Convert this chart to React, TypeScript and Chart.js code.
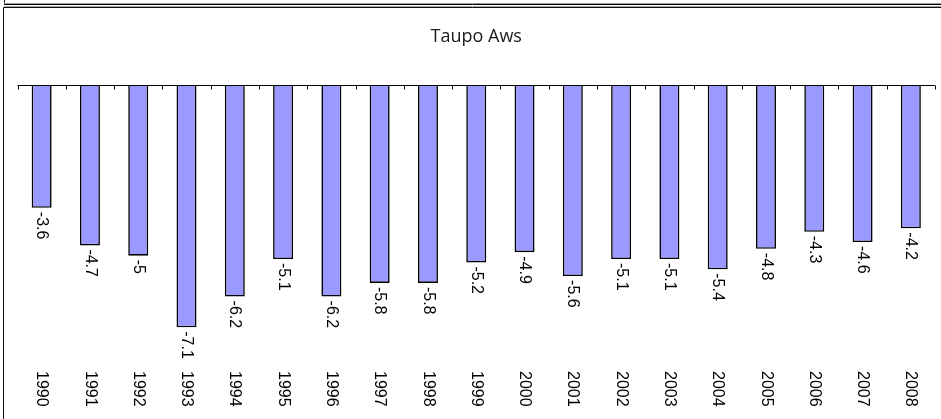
import React, { useEffect, useRef } from "react";
import { Chart, registerables } from "chart.js";

Chart.register(...registerables);

const chartTitle = "Taupo Aws";
const years = ["1990", "1991", "1992", "1993", "1994", "1995", "1996", "1997", "1998", "1999", "2000", "2001", "2002", "2003", "2004", "2005", "2006", "2007", "2008"];
const values = [-3.6, -4.7, -5, -7.1, -6.2, -5.1, -6.2, -5.8, -5.8, -5.2, -4.9, -5.6, -5.1, -5.1, -5.4, -4.8, -4.3, -4.6, -4.2];

const W = 941;
const H = 419;

const decorPlugin = {
  id: "decor",
  beforeDraw(chart: any) {
    const ctx = chart.ctx;
    ctx.save();
    ctx.fillStyle = "#fff";
    ctx.fillRect(0, 0, W, H);
    ctx.lineWidth = 1;
    ctx.strokeStyle = "#222";
    ctx.beginPath();
    ctx.moveTo(4.5, 0);
    ctx.lineTo(4.5, 5);
    ctx.stroke();
    ctx.strokeStyle = "#999";
    ctx.beginPath();
    ctx.moveTo(4, 3.5);
    ctx.lineTo(W, 3.5);
    ctx.stroke();
    ctx.strokeStyle = "#000";
    ctx.beginPath();
    ctx.moveTo(4, 4.5);
    ctx.lineTo(W, 4.5);
    ctx.stroke();
    ctx.strokeStyle = "#111";
    ctx.beginPath();
    ctx.moveTo(3.5, H);
    ctx.lineTo(3.5, 7.5);
    ctx.lineTo(W, 7.5);
    ctx.stroke();
    ctx.strokeStyle = "#aaa";
    ctx.beginPath();
    ctx.moveTo(4, 6.5);
    ctx.lineTo(W, 6.5);
    ctx.stroke();
    ctx.restore();
  },
  afterDatasetsDraw(chart: any) {
    const ctx = chart.ctx;
    const xs = chart.scales.x;
    const ys = chart.scales.y;
    const area = chart.chartArea;
    const y0 = Math.round(ys.getPixelForValue(0)) + 0.5;
    ctx.save();
    ctx.strokeStyle = "#000";
    ctx.lineWidth = 1;
    ctx.beginPath();
    ctx.moveTo(area.left, y0);
    ctx.lineTo(area.right, y0);
    const step = (area.right - area.left) / years.length;
    for (let i = 0; i <= years.length; i++) {
      const x = Math.round(area.left + i * step) + 0.5;
      ctx.moveTo(x, y0);
      ctx.lineTo(x, y0 + 4);
    }
    ctx.stroke();

    ctx.fillStyle = "#1a1a1a";
    ctx.font = "18px 'Open Sans', 'DejaVu Sans', sans-serif";
    ctx.textAlign = "center";
    ctx.textBaseline = "middle";
    ctx.fillText(chartTitle, (area.left + area.right) / 2, 37);

    ctx.fillStyle = "#000";
    ctx.font = "16px 'Liberation Sans', Arial, sans-serif";
    const meta = chart.getDatasetMeta(0);
    values.forEach((v, i) => {
      const bar = meta.data[i];
      const cx = bar.x;
      const by = ys.getPixelForValue(v);
      ctx.save();
      ctx.translate(cx, by + 4);
      ctx.rotate(Math.PI / 2);
      ctx.textAlign = "left";
      ctx.textBaseline = "middle";
      ctx.fillText(String(v), 0, 0);
      ctx.restore();

      ctx.save();
      ctx.translate(xs.getPixelForValue(i), area.bottom + 13);
      ctx.rotate(Math.PI / 2);
      ctx.textAlign = "left";
      ctx.textBaseline = "middle";
      ctx.fillText(years[i], 0, 0);
      ctx.restore();
    });
    ctx.restore();
  },
};

export default function App() {
  const ref = useRef<HTMLCanvasElement>(null);
  useEffect(() => {
    document.body.style.margin = "0";
    const chart = new Chart(ref.current as HTMLCanvasElement, {
      type: "bar",
      data: {
        labels: years,
        datasets: [
          {
            data: values,
            backgroundColor: "#9999FF",
            borderColor: "#000",
            borderWidth: 1.6,
            categoryPercentage: 1,
            barPercentage: 0.414,
          },
        ],
      },
      options: {
        responsive: false,
        animation: false,
        devicePixelRatio: 1,
        layout: { padding: { left: 17.5, right: 6, top: 85, bottom: 61 } },
        plugins: { legend: { display: false }, tooltip: { enabled: false }, title: { display: false } },
        scales: {
          x: { display: false },
          y: { display: false, min: -8, max: 0 },
        },
      },
      plugins: [decorPlugin],
    });
    return () => chart.destroy();
  }, []);
  return (
    <div style={{ position: "relative", width: W, height: H }}>
      <canvas ref={ref} width={W} height={H} style={{ display: "block" }} />
    </div>
  );
}
